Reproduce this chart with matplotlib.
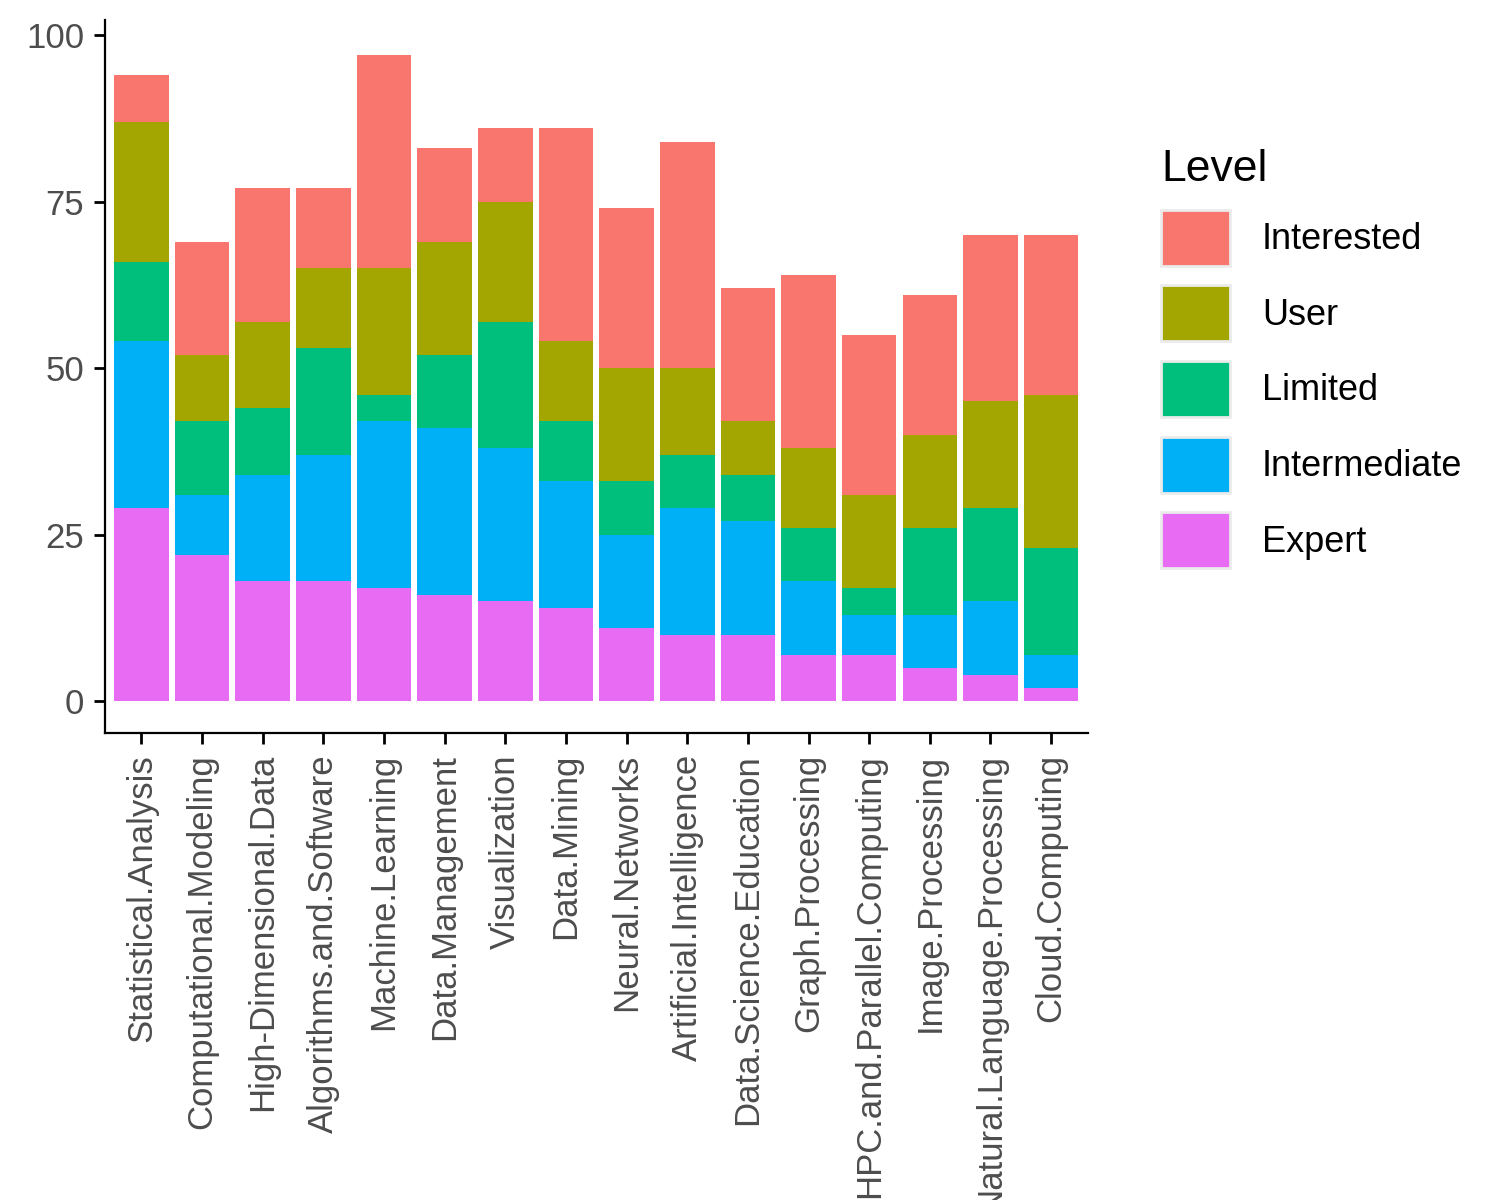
import matplotlib
matplotlib.use("Agg")
import matplotlib.pyplot as plt
import numpy as np

plt.rcParams["font.family"] = ["Liberation Sans", "DejaVu Sans"]

topics = ["Statistical.Analysis", "Computational.Modeling", "High-Dimensional.Data",
          "Algorithms.and.Software", "Machine.Learning", "Data.Management", "Visualization",
          "Data.Mining", "Neural.Networks", "Artificial.Intelligence", "Data.Science.Education",
          "Graph.Processing", "HPC.and.Parallel.Computing", "Image.Processing",
          "Natural.Language.Processing", "Cloud.Computing"]

# counts per level, bottom to top
expert       = [29, 22, 18, 18, 17, 16, 15, 14, 11, 10, 10, 7, 7, 5, 4, 2]
intermediate = [25, 9, 16, 19, 25, 25, 23, 19, 14, 19, 17, 11, 6, 8, 11, 5]
limited      = [12, 11, 10, 16, 4, 11, 19, 9, 8, 8, 7, 8, 4, 13, 14, 16]
user         = [21, 10, 13, 12, 19, 17, 18, 12, 17, 13, 8, 12, 14, 14, 16, 23]
interested   = [7, 17, 20, 12, 32, 14, 11, 32, 24, 34, 20, 26, 24, 21, 25, 24]

levels = ["Expert", "Intermediate", "Limited", "User", "Interested"]
series = [expert, intermediate, limited, user, interested]
colors = ["#E76BF3", "#00B0F6", "#00BF7D", "#A3A500", "#F8766D"]

fig = plt.figure(figsize=(7.5, 6), dpi=200)
ax = fig.add_axes([0.07, 0.389, 0.655, 0.594])

x = np.arange(len(topics))
bottom = np.zeros(len(topics))
handles = []
for name, vals, c in zip(levels, series, colors):
    h = ax.bar(x, vals, 0.9, bottom=bottom, color=c, label=name, linewidth=0)
    handles.append(h)
    bottom += np.array(vals)

ax.set_xlim(-0.6, len(topics) - 0.4)
ax.set_ylim(-4.8, 102.2)
ax.set_yticks([0, 25, 50, 75, 100])
ax.set_xticks(x)
ax.set_xticklabels(topics, rotation=90, fontsize=12.5, color="#4D4D4D")
ax.tick_params(axis="y", labelsize=12.5, labelcolor="#4D4D4D")
ax.tick_params(length=4, width=1)
for s in ["top", "right"]:
    ax.spines[s].set_visible(False)

leg = ax.legend(handles[::-1], levels[::-1], title="Level", loc="upper left",
                bbox_to_anchor=(1.06, 0.84), frameon=False, fontsize=13,
                title_fontsize=16, handlelength=1.9, handleheight=2.0,
                labelspacing=0.55, handletextpad=0.9, alignment="left",
                borderaxespad=0)
for p in leg.get_patches():
    p.set_edgecolor("#EBEBEB")
    p.set_linewidth(1)

plt.savefig("out.png", dpi=200)
